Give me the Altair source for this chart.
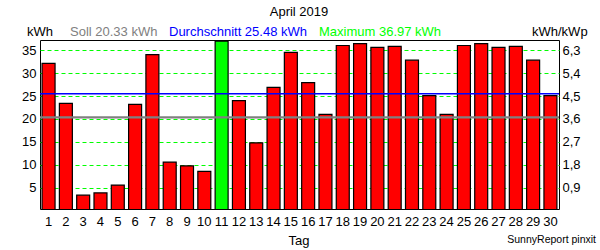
import altair as alt
import pandas as pd

# ---- data ----
days = list(range(1, 31))
kwh = [32.1, 23.4, 3.4, 3.9, 5.6, 23.2, 34.0, 10.6, 9.8, 8.6,
       36.97, 24.0, 14.8, 26.9, 34.5, 27.9, 21.0, 36.0, 36.4, 35.6,
       35.8, 32.8, 25.1, 21.0, 36.0, 36.4, 35.6, 35.8, 32.8, 25.1]
soll = 20.33
avg = 25.48
max_kwh = 36.97
kwh_per_kwp = 0.18          # right axis factor (kWh -> kWh/kWp)
y_ticks = [5, 10, 15, 20, 25, 30, 35]
title_text = "April 2019"

df = pd.DataFrame({"Tag": days, "kWh": kwh})
df["is_max"] = df["kWh"] == max(kwh)

FONT = "Liberation Sans"
FS = 13
yscale = alt.Scale(domain=[0.4, 37.2], nice=False, zero=False)

bars = alt.Chart(df).mark_bar(stroke="black", strokeWidth=1.2, clip=True).encode(
    x=alt.X("Tag:O", scale=alt.Scale(paddingInner=0.25, paddingOuter=0.12),
            axis=alt.Axis(labelAngle=0, ticks=False, domain=False, title=None,
                          labelFont=FONT, labelFontSize=FS, labelPadding=6,
                          labelColor="black")),
    y=alt.Y("kWh:Q", scale=yscale,
            axis=alt.Axis(values=y_ticks, grid=True, gridColor="#00ff00",
                          gridDash=[4, 3], gridWidth=1, ticks=False, domain=False,
                          title=None, labelFont=FONT, labelFontSize=FS,
                          labelPadding=4, labelColor="black")),
    color=alt.condition(alt.datum.is_max, alt.value("#00ff00"), alt.value("#ff0000")),
)

soll_rule = alt.Chart(pd.DataFrame({"v": [soll]})).mark_rule(
    color="#808080", strokeWidth=2.2).encode(
    y=alt.Y("v:Q", scale=yscale, axis=None))

avg_rule = alt.Chart(pd.DataFrame({"v": [avg]})).mark_rule(
    color="#0000ff", strokeWidth=1.5).encode(
    y=alt.Y("v:Q", scale=yscale,
            axis=alt.Axis(orient="right", values=y_ticks, grid=False, ticks=False,
                          domain=False, title=None, labelFont=FONT, labelFontSize=FS,
                          labelPadding=3, labelColor="black",
                          labelExpr=f"replace(format(datum.value*{kwh_per_kwp}, '.1f'), '.', ',')")))

base_txt = alt.Chart(pd.DataFrame({"a": [0]}))


def label(text, x, y, color="black", align="left", size=FS):
    return base_txt.mark_text(text=text, color=color, align=align, baseline="middle",
                              font=FONT, fontSize=size).encode(
        x=alt.value(x), y=alt.value(y))


texts = [
    label(title_text, 259, -28, align="center"),
    label("kWh", -13, -8),
    label(f"Soll {soll:.2f} kWh", 30, -8, color="#808080"),
    label(f"Durchschnitt {avg:.2f} kWh", 129, -8, color="#0000ff"),
    label(f"Maximum {max_kwh:.2f} kWh", 279, -8, color="#00ff00"),
    label("kWh/kWp", 492, -8),
    label("Tag", 259, 201, align="center"),
    label("SunnyReport pinxit", 556, 200, align="right", size=10.5),
]

chart = alt.layer(bars, soll_rule, avg_rule, *texts).resolve_axis(
    y="independent"
).properties(
    width=519, height=169,
    autosize=alt.AutoSizeParams(type="none"),
    padding={"left": 40, "top": 40, "right": 41, "bottom": 41},
    background="white",
).configure_view(stroke="black", strokeWidth=1)

chart.save("out.html", embed_options={"renderer": "svg", "actions": False})
